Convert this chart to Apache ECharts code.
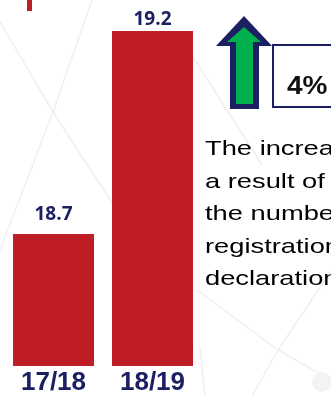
<!DOCTYPE html>
<html>
<head>
<meta charset="utf-8">
<script src="https://cdn.jsdelivr.net/npm/echarts@6/dist/echarts.min.js"></script>
<style>
  html, body { margin: 0; padding: 0; background: #ffffff; }
  #chart { width: 331px; height: 396px; }
</style>
</head>
<body>
<div id="chart"></div>
<script>
// Financial years and the values shown above each bar
var years = ['17/18', '18/19'];
var values = [18.7, 19.2];
var changeText = '4%';
var noteLines = ['The increase', 'a result of the', 'the number', 'registration', 'declaration'];

// Axis range (the value axis does not start at zero)
var yMin = 18.375;
var yMax = 19.2;

// Gap between each bar top and its value label
var labelGaps = [10, 2];
var BAR_WIDTH = 81;

var RED = '#BE1E24';
var NAVY = '#1C2062';
var GREEN = '#00B04F';
var FAINT = '#f0f0f0';

var chart = echarts.init(document.getElementById('chart'), null, { renderer: 'canvas' });

// Faint network pattern behind the chart
function seg(x1, y1, x2, y2) {
  return { type: 'line', silent: true, z: -10,
    shape: { x1: x1, y1: y1, x2: x2, y2: y2 },
    style: { stroke: FAINT, lineWidth: 1.5 } };
}

var graphics = [
  seg(0, 22, 53, 112), seg(92, 0, 53, 112), seg(53, 112, 0, 250), seg(53, 112, 120, 215),
  seg(193, 57, 262, 165), seg(197, 290, 278, 350), seg(278, 350, 331, 380),
  seg(278, 350, 345, 250), seg(278, 350, 252, 396), seg(200, 347, 205, 396),
  { type: 'circle', silent: true, z: -10, shape: { cx: 322, cy: 382, r: 10 }, style: { fill: '#f3f3f3' } },
  // small red marker at the top left
  { type: 'rect', shape: { x: 27, y: 0, width: 5, height: 11 }, style: { fill: RED } },
  // up arrow: navy outline with green body
  { type: 'polygon', shape: { points: [[244, 16], [272, 46], [259, 46], [259, 109], [230, 109], [230, 46], [216, 46]] },
    style: { fill: NAVY } },
  { type: 'polygon', shape: { points: [[244, 27], [261, 42], [253, 42], [253, 104], [236, 104], [236, 42], [227, 42]] },
    style: { fill: GREEN } },
  // percentage box
  { type: 'rect', shape: { x: 273, y: 45, width: 80, height: 62 },
    style: { fill: '#ffffff', stroke: NAVY, lineWidth: 2 } },
  { type: 'text', x: 287, y: 87, scaleX: 1.12,
    style: { text: changeText, font: 'bold 25px "Liberation Sans", Arial, sans-serif',
      fill: '#111111', verticalAlign: 'middle' } },
  // explanatory note
  { type: 'text', x: 205, y: 133, scaleX: 1.3,
    style: { text: noteLines.join('\n'), font: '21px "Liberation Sans", Arial, sans-serif',
      fill: '#000000', lineHeight: 32.5, verticalAlign: 'top' } }
];

// Each bar runs from the axis minimum up to its value, with the value above it
function renderBar(params, api) {
  var idx = api.value(0);
  var v = api.value(1);
  var top = api.coord([idx, v]);
  var base = api.coord([idx, yMin]);
  return {
    type: 'group',
    children: [
      { type: 'rect',
        shape: { x: top[0] - BAR_WIDTH / 2, y: top[1], width: BAR_WIDTH, height: base[1] - top[1] },
        style: { fill: RED } },
      { type: 'text', x: top[0], y: top[1] - labelGaps[params.dataIndex],
        style: { text: v.toFixed(1), fill: NAVY,
          font: 'bold 19px "Open Sans", sans-serif',
          align: 'center', verticalAlign: 'bottom' } }
    ]
  };
}

var option = {
  animation: false,
  backgroundColor: '#ffffff',
  grid: { left: 4, width: 198, top: 31, height: 335, outerBoundsMode: 'none' },
  xAxis: {
    type: 'category',
    data: years,
    axisLine: { show: false },
    axisTick: { show: false },
    axisLabel: {
      margin: 4, color: NAVY,
      fontFamily: '"Liberation Sans", Arial, sans-serif',
      fontWeight: 'bold', fontSize: 26, interval: 0
    }
  },
  yAxis: { type: 'value', min: yMin, max: yMax, show: false, splitLine: { show: false } },
  series: [{
    type: 'custom',
    z: 5,
    clip: false,
    renderItem: renderBar,
    encode: { x: 0, y: 1 },
    data: values.map(function (v, i) { return [i, v]; })
  }],
  graphic: graphics
};

chart.setOption(option);
</script>
</body>
</html>
